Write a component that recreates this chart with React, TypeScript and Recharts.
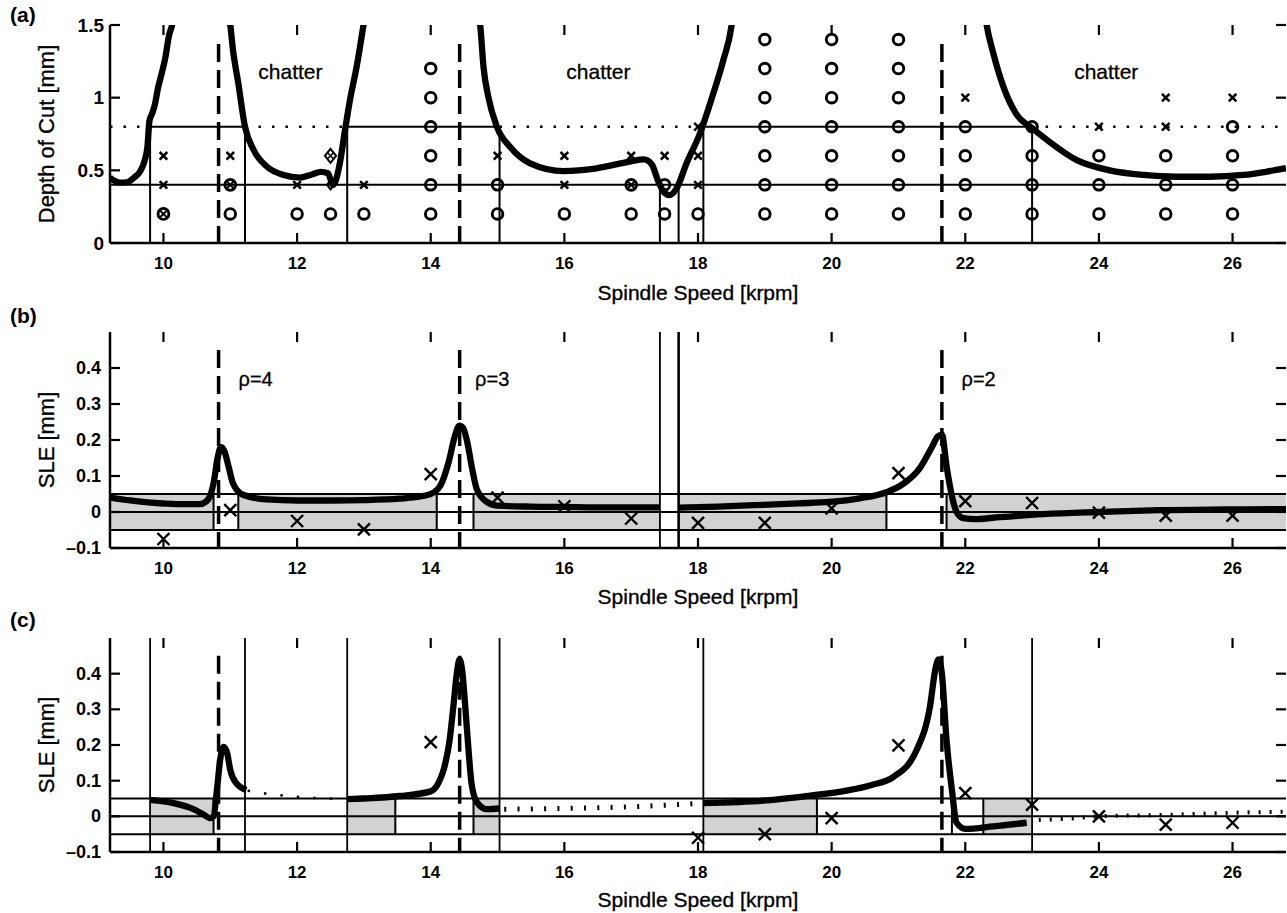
import React from 'react';
import {
  ComposedChart,
  Line,
  Scatter,
  XAxis,
  YAxis,
  ReferenceLine,
  ReferenceArea,
  ReferenceDot,
} from 'recharts';

type Pt = [number, number];

const FONT = '"Liberation Sans", Arial, Helvetica, sans-serif';
const INK = '#000';
const SHADE = '#d2d2d2';

/* ---------------- axes ---------------- */
const speedDomain: [number, number] = [9.2, 26.8];
const speedTicks = [10, 12, 14, 16, 18, 20, 22, 24, 26];
const depthDomain: [number, number] = [0, 1.5];
const depthTicks = [0, 0.5, 1, 1.5];
const sleDomain: [number, number] = [-0.1, 0.5];
const sleTicks = [-0.1, 0, 0.1, 0.2, 0.3, 0.4];

/* ---------------- resonance speeds (dashed) ---------------- */
const rhoSpeeds = [10.825, 14.433, 21.65];
const rhoNames = ['ρ=4', 'ρ=3', 'ρ=2'];
const rhoLabelSpeeds = [11.38, 14.92, 22.2];
const rhoLabelLevel = 0.37;
const rhoTopDepth = 1.37;
const rhoTopSle = 0.45;

/* ---------------- (a) stability lobes ---------------- */
const lobeA1: Pt[] = [
  [9.2, 0.45], [9.26, 0.43], [9.35, 0.415], [9.45, 0.418], [9.56, 0.45], [9.66, 0.5],
  [9.72, 0.57], [9.76, 0.66], [9.79, 0.84], [9.83, 0.89], [9.87, 0.95], [9.92, 1.07],
  [9.97, 1.16], [10.03, 1.28], [10.08, 1.42], [10.13, 1.5], [10.16, 1.56],
];
const lobeA2: Pt[] = [
  [10.98, 1.56], [11.0, 1.5], [11.04, 1.33], [11.12, 1.1], [11.22, 0.8], [11.35, 0.64],
  [11.55, 0.525], [11.8, 0.468], [12.04, 0.45], [12.21, 0.47], [12.36, 0.49], [12.46, 0.48],
  [12.54, 0.4], [12.64, 0.55], [12.71, 0.755], [12.79, 0.98], [12.89, 1.21], [12.99, 1.49],
  [13.01, 1.55],
];
const lobeA3: Pt[] = [
  [14.72, 1.56], [14.74, 1.5], [14.79, 1.21], [14.86, 1.01], [14.99, 0.8], [15.19, 0.66],
  [15.48, 0.55], [15.99, 0.495], [16.48, 0.514], [16.98, 0.56], [17.19, 0.575], [17.31, 0.54],
  [17.4, 0.43], [17.5, 0.345], [17.57, 0.33], [17.68, 0.376], [17.83, 0.55], [18.03, 0.755],
  [18.23, 1.03], [18.38, 1.26], [18.5, 1.49], [18.52, 1.56],
];
const lobeA4: Pt[] = [
  [22.3, 1.56], [22.32, 1.5], [22.42, 1.305], [22.57, 1.076], [22.76, 0.89], [23.0, 0.79],
  [23.22, 0.71], [23.67, 0.57], [24.16, 0.5], [24.67, 0.468], [25.16, 0.456], [25.66, 0.456],
  [26.16, 0.468], [26.5, 0.49], [26.8, 0.515],
];
const chatterLabelSpeeds = [11.9, 16.51, 24.11];
const chatterLabelDepth = 1.18;

/* ---------------- (a) cutting tests ---------------- */
const stableCuts: Pt[] = [
  [11, 0.2], [12, 0.2], [12.5, 0.2], [13, 0.2],
  [14, 0.2], [14, 0.4], [14, 0.6], [14, 0.8], [14, 1.0], [14, 1.2],
  [15, 0.2], [15, 0.4], [16, 0.2], [17, 0.2], [17.5, 0.2], [17.5, 0.4], [18, 0.2],
  [19, 0.2], [19, 0.4], [19, 0.6], [19, 0.8], [19, 1.0], [19, 1.2], [19, 1.4],
  [20, 0.2], [20, 0.4], [20, 0.6], [20, 0.8], [20, 1.0], [20, 1.2], [20, 1.4],
  [21, 0.2], [21, 0.4], [21, 0.6], [21, 0.8], [21, 1.0], [21, 1.2], [21, 1.4],
  [22, 0.2], [22, 0.4], [22, 0.6], [22, 0.8],
  [23, 0.2], [23, 0.4], [23, 0.6], [23, 0.8],
  [24, 0.2], [24, 0.4], [24, 0.6],
  [25, 0.2], [25, 0.4], [25, 0.6],
  [26, 0.2], [26, 0.4], [26, 0.6], [26, 0.8],
];
const chatterCuts: Pt[] = [
  [10, 0.6], [10, 0.4], [11, 0.6], [12, 0.4], [13, 0.4], [15, 0.6], [16, 0.6], [16, 0.4],
  [17, 0.6], [17.5, 0.6], [18, 0.8], [18, 0.6], [18, 0.4], [22, 1.0], [24, 0.8], [25, 1.0],
  [25, 0.8], [26, 1.0],
];
const marginalCuts: Pt[] = [[10, 0.2], [11, 0.4], [17, 0.4]];
const diamondCuts: Pt[] = [[12.5, 0.6]];
const smallDiamondCuts: Pt[] = [[12.5, 0.4]];

/* ---------------- (a) boundary lines ---------------- */
const fullTestDepth = 0.4;
const boundary08Speeds = [9.8, 11.22, 12.75, 15.03, 18.08, 23.0];
const boundary04Speeds = [17.43, 17.71];
const solid08Spans: Pt[] = [[9.8, 11.22], [12.75, 15.03], [18.08, 23.0]];
const dotted08Spans: Pt[] = [[9.2, 9.8], [11.22, 12.75], [15.03, 18.08], [23.0, 26.8]];

/* ---------------- (b) SLE, 0.4 mm ---------------- */
const sleB1: Pt[] = [
  [9.2, 0.04], [9.5, 0.032], [9.81, 0.026], [10.2, 0.022], [10.55, 0.022], [10.67, 0.035],
  [10.75, 0.08], [10.81, 0.15], [10.86, 0.18], [10.91, 0.17], [10.97, 0.13], [11.04, 0.08],
  [11.19, 0.048], [11.54, 0.035], [12.0, 0.032], [12.54, 0.032], [13.0, 0.033], [13.53, 0.037],
  [13.9, 0.045], [14.05, 0.055], [14.15, 0.075], [14.27, 0.14], [14.36, 0.21], [14.43, 0.24],
  [14.48, 0.235], [14.54, 0.2], [14.62, 0.12], [14.69, 0.063], [14.84, 0.028], [14.99, 0.018],
  [15.5, 0.015], [16.0, 0.014], [16.5, 0.013], [17.0, 0.013], [17.43, 0.013],
];
const sleB2: Pt[] = [
  [17.71, 0.012], [18.3, 0.015], [18.98, 0.02], [19.5, 0.024], [19.97, 0.028], [20.42, 0.038],
  [20.82, 0.055], [21.07, 0.078], [21.32, 0.122], [21.5, 0.18], [21.59, 0.21], [21.65, 0.215],
  [21.72, 0.127], [21.8, 0.044], [21.87, 0.0], [21.97, -0.017], [22.15, -0.02], [22.42, -0.016],
  [23.17, -0.006], [24.01, 0.0], [24.9, 0.005], [25.9, 0.007], [26.8, 0.008],
];
const sleBMeasured: Pt[] = [
  [10, -0.075], [11, 0.005], [12, -0.025], [13, -0.048], [14, 0.105], [15, 0.04], [16, 0.016],
  [17, -0.018], [18, -0.03], [19, -0.03], [20, 0.01], [21, 0.108], [22, 0.03], [23, 0.025],
  [24, -0.002], [25, -0.01], [26, -0.01],
];
const sleBShaded: Pt[] = [[9.2, 10.75], [11.12, 14.09], [14.64, 17.43], [17.71, 20.82], [21.72, 26.8]];
const sleBCellEdges = [10.75, 11.12, 14.09, 14.64, 20.82, 21.72];
const sleBFullLines = [17.43, 17.71];

/* ---------------- (c) SLE, 0.8 mm ---------------- */
const sleC1: Pt[] = [
  [9.8, 0.046], [10.15, 0.037], [10.45, 0.02], [10.6, 0.005], [10.7, -0.005], [10.75, 0.0],
  [10.8, 0.074], [10.85, 0.16], [10.9, 0.195], [10.95, 0.18], [11.0, 0.13], [11.09, 0.093],
  [11.24, 0.074],
];
const sleCDots1: Pt[] = [[11.26, 0.072], [11.6, 0.062], [12.0, 0.055], [12.4, 0.05], [12.73, 0.048]];
const sleC2: Pt[] = [
  [12.75, 0.048], [13.0, 0.05], [13.54, 0.057], [14.0, 0.07], [14.12, 0.095], [14.2, 0.135],
  [14.28, 0.21], [14.34, 0.31], [14.39, 0.4], [14.43, 0.44], [14.47, 0.41], [14.52, 0.3],
  [14.56, 0.2], [14.61, 0.093], [14.69, 0.04], [14.84, 0.02], [15.03, 0.022],
];
const sleCDots2: Pt[] = [[15.1, 0.02], [16.0, 0.022], [17.0, 0.027], [18.0, 0.036]];
const sleC3: Pt[] = [
  [18.08, 0.037], [18.98, 0.044], [19.68, 0.058], [20.22, 0.072], [20.6, 0.088], [20.92, 0.11],
  [21.27, 0.185], [21.47, 0.306], [21.56, 0.42], [21.6, 0.44], [21.65, 0.4], [21.72, 0.213],
  [21.8, 0.074], [21.87, -0.018], [22.0, -0.035], [22.42, -0.028], [22.92, -0.018],
];
const sleCDots3: Pt[] = [[23.1, -0.01], [23.6, -0.006], [24.0, 0.0], [25.0, 0.004], [26.0, 0.01], [26.8, 0.013]];
const sleCMeasured: Pt[] = [
  [14, 0.208], [18, -0.06], [19, -0.05], [20, -0.005], [21, 0.199], [22, 0.065], [23, 0.033],
  [24, 0.0], [25, -0.023], [26, -0.018],
];
const sleCShaded: Pt[] = [[9.8, 10.75], [12.75, 13.47], [14.64, 15.03], [18.08, 19.78], [22.27, 23.0]];
const sleCCellEdges = [10.75, 13.47, 14.64, 19.78, 21.8, 22.27];
const sleCFullLines = [9.8, 11.22, 12.75, 15.03, 18.08, 23.0];

const toleranceLevels = [-0.05, 0, 0.05];

/* ---------------- helpers ---------------- */
const xy = (pts: Pt[]) => pts.map(([x, y]) => ({ x, y }));

const ringShape = (r: number, w: number) => (p: any) => (
  <circle cx={p.cx} cy={p.cy} r={r} fill="none" stroke={INK} strokeWidth={w} />
);
const crossShape = (h: number, w: number) => (p: any) => (
  <path
    d={`M${p.cx - h},${p.cy - h}L${p.cx + h},${p.cy + h}M${p.cx - h},${p.cy + h}L${p.cx + h},${p.cy - h}`}
    stroke={INK}
    strokeWidth={w}
    fill="none"
  />
);
const ringCrossShape = (p: any) => (
  <g>
    <circle cx={p.cx} cy={p.cy} r={5.4} fill="none" stroke={INK} strokeWidth={2.9} />
    <path
      d={`M${p.cx - 3.6},${p.cy - 3.6}L${p.cx + 3.6},${p.cy + 3.6}M${p.cx - 3.6},${p.cy + 3.6}L${p.cx + 3.6},${p.cy - 3.6}`}
      stroke={INK}
      strokeWidth={2}
    />
  </g>
);
const diamondShape = (h: number, withCross: boolean) => (p: any) => (
  <g>
    <path
      d={`M${p.cx},${p.cy - h}L${p.cx + h * 0.8},${p.cy}L${p.cx},${p.cy + h}L${p.cx - h * 0.8},${p.cy}Z`}
      fill="none"
      stroke={INK}
      strokeWidth={2}
    />
    {withCross ? (
      <path
        d={`M${p.cx - 3},${p.cy - 3}L${p.cx + 3},${p.cy + 3}M${p.cx - 3},${p.cy + 3}L${p.cx + 3},${p.cy - 3}`}
        stroke={INK}
        strokeWidth={1.6}
      />
    ) : null}
  </g>
);

const TICK_PX = 10;
const PLOT_W_PX = 1176;
const textStyle = { fontFamily: FONT, fill: INK };

const bottomTick = (size: number) => (p: any) => (
  <text x={p.x} y={p.y} textAnchor="middle" dominantBaseline="central" fontSize={size} fontWeight={700} {...textStyle}>
    {p.payload.value}
  </text>
);
const leftTick = (size: number, fmt: (v: number) => string) => (p: any) => (
  <text x={p.x} y={p.y} textAnchor="end" dominantBaseline="central" fontSize={size} fontWeight={700} {...textStyle}>
    {fmt(p.payload.value)}
  </text>
);

const xTitle = (text: string, baselineOffset: number) => ({
  content: (p: any) => {
    const vb = p.viewBox || {};
    const x = vb.x + vb.width / 2;
    const y = vb.y + baselineOffset;
    return (
      <text x={x} y={y} textAnchor="middle" fontSize={21} stroke={INK} strokeWidth={0.35} {...textStyle}>
        {text}
      </text>
    );
  },
});
const yTitle = (text: string) => ({
  content: (p: any) => {
    const vb = p.viewBox || {};
    const cy = vb.y + vb.height / 2;
    const cx = 46;
    return (
      <text
        x={cx}
        y={cy}
        transform={`rotate(-90 ${cx} ${cy})`}
        textAnchor="middle"
        dominantBaseline="central"
        fontSize={22}
        stroke={INK}
        strokeWidth={0.35}
        {...textStyle}
      >
        {text}
      </text>
    );
  },
});
const centerText = (text: string, size: number) => ({
  content: (p: any) => {
    const vb = p.viewBox || {};
    const x = vb.x + (vb.width || 0) / 2;
    const y = vb.y + (vb.height || 0) / 2;
    return (
      <text x={x} y={y} textAnchor="middle" dominantBaseline="central" fontSize={size} stroke={INK} strokeWidth={0.3} {...textStyle}>
        {text}
      </text>
    );
  },
});

const fmtPlain = (v: number) => String(v);
const fmtSle = (v: number) => (v < 0 ? '\u2013' + String(Math.abs(v)) : String(v));

const X_TICK_MARGIN = 20;
const boxLine = { stroke: INK, strokeWidth: 2.5 };

function axes(
  yDomain: [number, number],
  yTicks: number[],
  yLabel: string,
  xBaseline: number,
  yTickMargin: number,
  yTickSize: number,
  yFmt: (v: number) => string,
) {
  return [
    <XAxis
      key="xb"
      xAxisId={0}
      dataKey="x"
      type="number"
      domain={speedDomain}
      ticks={speedTicks}
      interval={0}
      allowDataOverflow
      height={60}
      tickSize={0}
      tickMargin={X_TICK_MARGIN}
      axisLine={boxLine}
      tickLine={false}
      tick={bottomTick(17)}
      label={xTitle('Spindle Speed [krpm]', xBaseline)}
    />,
    <XAxis
      key="xt"
      xAxisId="top"
      orientation="top"
      dataKey="x"
      type="number"
      domain={speedDomain}
      ticks={speedTicks}
      allowDataOverflow
      height={0}
      axisLine={boxLine}
      tickLine={false}
      tick={false}
    />,
    <YAxis
      key="yl"
      yAxisId={0}
      dataKey="y"
      type="number"
      domain={yDomain}
      ticks={yTicks}
      interval={0}
      allowDataOverflow
      width={110}
      tickSize={0}
      tickMargin={yTickMargin}
      axisLine={boxLine}
      tickLine={false}
      tick={leftTick(yTickSize, yFmt)}
      label={yTitle(yLabel)}
    />,
    <YAxis
      key="yr"
      yAxisId="right"
      orientation="right"
      dataKey="y"
      type="number"
      domain={yDomain}
      ticks={yTicks}
      allowDataOverflow
      width={0}
      axisLine={boxLine}
      tickLine={false}
      tick={false}
    />,
  ];
}

/* inward tick marks on all four sides, drawn through the data scales */
function tickMarks(yDomain: [number, number], yTicks: number[], plotHeightPx: number, prefix: string) {
  const [y0, y1] = yDomain;
  const [x0, x1] = speedDomain;
  const dy = (TICK_PX / plotHeightPx) * (y1 - y0);
  const dx = (TICK_PX / PLOT_W_PX) * (x1 - x0);
  const marks: React.ReactNode[] = [];
  speedTicks.forEach((t, i) => {
    marks.push(
      <ReferenceLine key={`${prefix}tb${i}`} segment={[{ x: t, y: y0 }, { x: t, y: y0 + dy }]} stroke={INK} strokeWidth={2.2} />,
      <ReferenceLine key={`${prefix}tt${i}`} segment={[{ x: t, y: y1 - dy }, { x: t, y: y1 }]} stroke={INK} strokeWidth={2.2} />,
    );
  });
  yTicks.forEach((t, i) => {
    marks.push(
      <ReferenceLine key={`${prefix}tl${i}`} segment={[{ x: x0, y: t }, { x: x0 + dx, y: t }]} stroke={INK} strokeWidth={2.2} />,
      <ReferenceLine key={`${prefix}tr${i}`} segment={[{ x: x1 - dx, y: t }, { x: x1, y: t }]} stroke={INK} strokeWidth={2.2} />,
    );
  });
  return marks;
}

const CURVE_W = 6.3;

const curve = (key: string, pts: Pt[]) => (
  <Line
    key={key}
    data={xy(pts)}
    dataKey="y"
    type="monotone"
    stroke={INK}
    strokeWidth={CURVE_W}
    strokeLinejoin="round"
    dot={false}
    activeDot={false}
    isAnimationActive={false}
  />
);
const dottedCurve = (key: string, pts: Pt[], width: number, dash: string) => (
  <Line
    key={key}
    data={xy(pts)}
    dataKey="y"
    type="monotone"
    stroke={INK}
    strokeWidth={width}
    strokeDasharray={dash}
    dot={false}
    activeDot={false}
    isAnimationActive={false}
  />
);

function rhoLines(top: number, bottom: number) {
  return rhoSpeeds.map((s, i) => (
    <ReferenceLine
      key={`rho${i}`}
      segment={[{ x: s, y: top }, { x: s, y: bottom }]}
      stroke={INK}
      strokeWidth={3.5}
      strokeDasharray="18 8"
    />
  ));
}

function toleranceBand(shaded: Pt[], edges: number[], full: number[], prefix: string) {
  return [
    ...shaded.map(([a, b], i) => (
      <ReferenceArea key={`${prefix}s${i}`} x1={a} x2={b} y1={-0.05} y2={0.05} fill={SHADE} fillOpacity={1} stroke="none" />
    )),
    ...toleranceLevels.map((lv, i) => (
      <ReferenceLine key={`${prefix}h${i}`} y={lv} stroke={INK} strokeWidth={2} />
    )),
    ...edges.map((e, i) => (
      <ReferenceLine key={`${prefix}e${i}`} segment={[{ x: e, y: -0.05 }, { x: e, y: 0.05 }]} stroke={INK} strokeWidth={2} />
    )),
    ...full.map((f, i) => (
      <ReferenceLine key={`${prefix}f${i}`} x={f} stroke={INK} strokeWidth={i === 1 && prefix === 'b' ? 2.6 : 1.8} />
    )),
  ];
}

const W = 1287;

export default function App() {
  return (
    <div style={{ position: 'absolute', left: 0, top: 0, width: 1287, height: 913, background: '#fff', fontFamily: FONT }}>
      {['(a)', '(b)', '(c)'].map((t, i) => (
        <div
          key={t}
          style={{
            position: 'absolute',
            left: 10,
            top: [4, 305, 609][i],
            fontSize: 21,
            fontWeight: 700,
            lineHeight: '22px',
            color: INK,
          }}
        >
          {t}
        </div>
      ))}

      {/* (a) */}
      <div style={{ position: 'absolute', left: 0, top: 0 }}>
        <ComposedChart width={W} height={305} margin={{ top: 25, right: 1, bottom: 2, left: 0 }}>
          {axes(depthDomain, depthTicks, 'Depth of Cut [mm]', 57, 6, 19, fmtPlain)}
          {tickMarks(depthDomain, depthTicks, 218, 'a')}
          <ReferenceLine y={fullTestDepth} stroke={INK} strokeWidth={2} />
          {solid08Spans.map(([a, b], i) => (
            <ReferenceLine key={`s8${i}`} segment={[{ x: a, y: 0.8 }, { x: b, y: 0.8 }]} stroke={INK} strokeWidth={2} />
          ))}
          {dotted08Spans.map(([a, b], i) => (
            <ReferenceLine
              key={`d8${i}`}
              segment={[{ x: a, y: 0.8 }, { x: b, y: 0.8 }]}
              stroke={INK}
              strokeWidth={2.5}
              strokeDasharray="2.5 11"
            />
          ))}
          {boundary08Speeds.map((s, i) => (
            <ReferenceLine key={`b8${i}`} segment={[{ x: s, y: 0 }, { x: s, y: 0.8 }]} stroke={INK} strokeWidth={2} />
          ))}
          {boundary04Speeds.map((s, i) => (
            <ReferenceLine key={`b4${i}`} segment={[{ x: s, y: 0 }, { x: s, y: 0.4 }]} stroke={INK} strokeWidth={2} />
          ))}
          {rhoLines(rhoTopDepth, 0)}
          {curve('la1', lobeA1)}
          {curve('la2', lobeA2)}
          {curve('la3', lobeA3)}
          {curve('la4', lobeA4)}
          <Scatter data={xy(stableCuts)} dataKey="y" shape={ringShape(5.3, 2.9)} isAnimationActive={false} />
          <Scatter data={xy(chatterCuts)} dataKey="y" shape={crossShape(3.8, 2.5)} isAnimationActive={false} />
          <Scatter data={xy(marginalCuts)} dataKey="y" shape={ringCrossShape} isAnimationActive={false} />
          <Scatter data={xy(diamondCuts)} dataKey="y" shape={diamondShape(7, true)} isAnimationActive={false} />
          <Scatter data={xy(smallDiamondCuts)} dataKey="y" shape={diamondShape(4.5, false)} isAnimationActive={false} />
          {chatterLabelSpeeds.map((s, i) => (
            <ReferenceDot
              key={`ch${i}`}
              x={s}
              y={chatterLabelDepth}
              r={0}
              fill="none"
              stroke="none"
              label={centerText('chatter', 21)}
            />
          ))}
        </ComposedChart>
      </div>

      {/* (b) */}
      <div style={{ position: 'absolute', left: 0, top: 305 }}>
        <ComposedChart width={W} height={305} margin={{ top: 27, right: 1, bottom: 2, left: 0 }}>
          {axes(sleDomain, sleTicks, 'SLE [mm]', 56, 9, 18, fmtSle)}
          {tickMarks(sleDomain, sleTicks, 216, 'b')}
          {toleranceBand(sleBShaded, sleBCellEdges, sleBFullLines, 'b')}
          {rhoLines(rhoTopSle, -0.1)}
          {curve('b1', sleB1)}
          {curve('b2', sleB2)}
          <Scatter data={xy(sleBMeasured)} dataKey="y" shape={crossShape(6, 2.4)} isAnimationActive={false} />
          {rhoLabelSpeeds.map((s, i) => (
            <ReferenceDot
              key={`rl${i}`}
              x={s}
              y={rhoLabelLevel}
              r={0}
              fill="none"
              stroke="none"
              label={centerText(rhoNames[i], 20)}
            />
          ))}
        </ComposedChart>
      </div>

      {/* (c) */}
      <div style={{ position: 'absolute', left: 0, top: 610 }}>
        <ComposedChart width={W} height={303} margin={{ top: 28, right: 1, bottom: 1, left: 0 }}>
          {axes(sleDomain, sleTicks, 'SLE [mm]', 55, 9, 18, fmtSle)}
          {tickMarks(sleDomain, sleTicks, 214, 'c')}
          {toleranceBand(sleCShaded, sleCCellEdges, sleCFullLines, 'c')}
          {rhoLines(rhoTopSle, -0.1)}
          {curve('c1', sleC1)}
          {dottedCurve('cd1', sleCDots1, 2.5, '2.5 14')}
          {curve('c2', sleC2)}
          {dottedCurve('cd2', sleCDots2, 5, '2 11.3')}
          {curve('c3', sleC3)}
          {dottedCurve('cd3', sleCDots3, 4, '2 9')}
          <Scatter data={xy(sleCMeasured)} dataKey="y" shape={crossShape(6, 2.4)} isAnimationActive={false} />
        </ComposedChart>
      </div>
    </div>
  );
}
